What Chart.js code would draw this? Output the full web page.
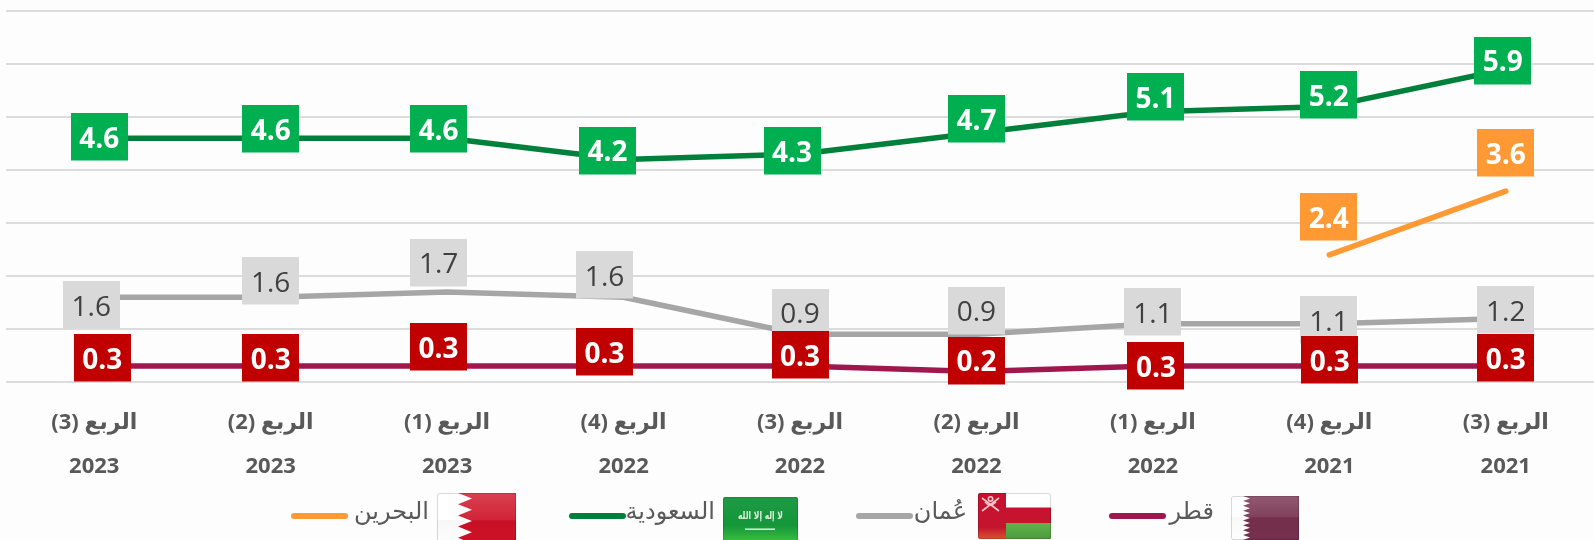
<!DOCTYPE html>
<html lang="ar">
<head>
<meta charset="utf-8">
<script src="https://cdn.jsdelivr.net/npm/chart.js@4"></script>
<style>
  html, body { margin: 0; padding: 0; background: #fdfdfd; }
  #wrap { position: relative; width: 1594px; height: 540px; overflow: hidden; }
  canvas { display: block; }
  .swatch { position: absolute; height: 6px; border-radius: 3px; top: 513px; }
  .name { position: absolute; top: 497px; direction: rtl; font: 24px "DejaVu Sans", "Noto Sans", sans-serif; color: #595959; white-space: nowrap; letter-spacing: -1px; }
  .flag { position: absolute; display: block; }
</style>
</head>
<body>
<div id="wrap">
  <canvas id="gccChart" width="1594" height="540" dir="rtl"></canvas>
</div>
<script>
// --- Data (left to right as in the picture) ---
const quarters = ['الربع (3)', 'الربع (2)', 'الربع (1)', 'الربع (4)', 'الربع (3)', 'الربع (2)', 'الربع (1)', 'الربع (4)', 'الربع (3)'];
const years = ['2023', '2023', '2023', '2022', '2022', '2022', '2022', '2021', '2021'];
const seriesNames = ['قطر', 'عُمان', 'السعودية', 'البحرين'];
const qatarValues = [0.3, 0.3, 0.3, 0.3, 0.3, 0.2, 0.3, 0.3, 0.3];
const omanValues = [1.6, 1.6, 1.7, 1.6, 0.9, 0.9, 1.1, 1.1, 1.2];
const saudiValues = [4.6, 4.6, 4.6, 4.2, 4.3, 4.7, 5.1, 5.2, 5.9];
const bahrainValues = [null, null, null, null, null, null, null, 2.4, 3.6];

// --- Hand-placed label boxes: shift in px from the point they belong to ---
const qatarShift = [[8, -8], [0, -8], [-8.5, -19], [-19, -14], [0, -11], [0, -11], [3, 0], [0.5, -6], [0, -8]];
const omanShift = [[-3, 8], [0, -16], [-8.5, -29.5], [-19, -22], [0, -22], [0, -24], [0, -12], [-0.5, -4], [0, -8.5]];
const saudiShift = [[5, -1], [0, -9], [-8.5, -9], [-16, -9], [-8, -3.5], [0, -14], [2.5, -15], [-0.5, -11.5], [-3, -9]];
const bahrainShift = [null, null, null, null, null, null, null, [-0.5, -38], [0, -38]];

// Series colours: line, box, label text
const qatarColors = ['#a0174e', '#c00000', '#ffffff'];
const omanColors = ['#a6a6a6', '#d9d9d9', '#404040'];
const saudiColors = ['#00803a', '#00b050', '#ffffff'];
const bahrainColors = ['#ff9933', '#ff9933', '#ffffff'];

const BOX_W = 57, BOX_H = 47.5;

// Draws the value boxes on top of the lines
const valueBoxes = {
  id: 'valueBoxes',
  afterDatasetsDraw(chart) {
    const { ctx, scales } = chart;
    // orange first, red last: red boxes sit on top of the grey ones
    [3, 2, 1, 0].forEach(ds => {
      const set = chart.data.datasets[ds];
      set.data.forEach((v, i) => {
        if (v === null) return;
        const x = scales.x.getPixelForValue(i) + set.boxShift[i][0];
        const y = scales.y.getPixelForValue(v) + set.boxShift[i][1];
        ctx.save();
        ctx.fillStyle = set.boxColor;
        ctx.fillRect(Math.round(x - BOX_W / 2), Math.round(y - BOX_H / 2), BOX_W, BOX_H);
        ctx.fillStyle = set.labelColor;
        ctx.font = (set.labelWeight || 'bold') + ' 28px "Open Sans", sans-serif';
        ctx.textAlign = 'center';
        ctx.textBaseline = 'alphabetic';
        ctx.direction = 'ltr';
        ctx.fillText(v.toFixed(1), x, y + 11);
        ctx.restore();
      });
    });
  }
};

const makeSet = (i, values, colors, shift, weight) => ({
  label: seriesNames[i],
  data: values,
  borderColor: colors[0],
  boxColor: colors[1],
  labelColor: colors[2],
  boxShift: shift,
  labelWeight: weight,
  borderWidth: 5.5,
  borderCapStyle: 'round',
  borderJoinStyle: 'round',
  pointRadius: 0,
  tension: 0,
  order: i === 3 ? 3 : i
});

new Chart(document.getElementById('gccChart'), {
  type: 'line',
  data: {
    labels: quarters.map((q, i) => [q, years[i]]),
    datasets: [
      makeSet(0, qatarValues, qatarColors, qatarShift),
      makeSet(1, omanValues, omanColors, omanShift, 'normal'),
      makeSet(2, saudiValues, saudiColors, saudiShift),
      makeSet(3, bahrainValues, bahrainColors, bahrainShift)
    ]
  },
  options: {
    responsive: false,
    devicePixelRatio: 1,
    animation: false,
    layout: { padding: { left: 6, top: 11, right: 0, bottom: 0 } },
    plugins: { legend: { display: false }, tooltip: { enabled: false } },
    scales: {
      x: {
        offset: true,
        grid: { display: false },
        border: { display: false },
        afterFit: s => { s.height = 158; },
        ticks: {
          autoSkip: false,
          maxRotation: 0,
          padding: 11,
          color: '#595959',
          font: { family: '"Open Sans", "DejaVu Sans", sans-serif', size: 22, weight: 'bold', lineHeight: 2 }
        }
      },
      y: {
        min: 0,
        max: 7,
        grid: { color: '#dcdcdc', lineWidth: 2, drawTicks: false },
        border: { display: false },
        afterFit: s => { s.width = 0; },
        ticks: { display: false, stepSize: 1 }
      }
    }
  },
  plugins: [valueBoxes]
});

// --- Legend with flags, under the chart ---
const gloss = id => `<defs><linearGradient id="${id}" x1="0" y1="0" x2="0" y2="1">
  <stop offset="0" stop-color="#fff" stop-opacity=".2"/><stop offset=".48" stop-color="#fff" stop-opacity=".08"/>
  <stop offset=".5" stop-color="#000" stop-opacity=".03"/><stop offset="1" stop-color="#000" stop-opacity="0"/></linearGradient></defs>`;
const glossRect = (id, w, h) => `<rect width="${w}" height="${h}" rx="2" fill="url(#${id})"/><rect x=".5" y=".5" width="${w - 1}" height="${h - 1}" rx="2" fill="none" stroke="#000" stroke-opacity=".15"/>`;

// zig-zag edge between the white hoist and the coloured field
function zigzag(x, depth, teeth, w, h) {
  let pts = `${x},0 `;
  for (let t = 0; t < teeth; t++) {
    pts += `${x + depth},${(t + 0.5) * h / teeth} ${x},${(t + 1) * h / teeth} `;
  }
  return `${w},${h} ${w},0 ` + pts;
}

function bahrainFlag() {
  const w = 79, h = 56;
  return `<svg class="flag" style="left:437px;top:493px" width="${w}" height="${h}">${gloss('gb')}
    <rect width="${w}" height="${h}" rx="2" fill="#fff"/>
    <polygon points="${zigzag(21, 14, 5, w, h)}" fill="#ce1126"/>
    ${glossRect('gb', w, h)}</svg>`;
}
function saudiFlag() {
  const w = 75, h = 47;
  return `<svg class="flag" style="left:723px;top:497px" width="${w}" height="${h}">
    <defs><linearGradient id="gs" x1="0" y1="0" x2="0" y2="1"><stop offset="0" stop-color="#1f9a45"/><stop offset=".6" stop-color="#14963a"/><stop offset="1" stop-color="#3fc63f"/></linearGradient></defs>
    <rect width="${w}" height="${h}" rx="2" fill="url(#gs)"/>
    <text x="37.5" y="22" text-anchor="middle" direction="rtl" font-family="DejaVu Sans" font-size="11" font-weight="bold" fill="#dff0df" textLength="45" lengthAdjust="spacingAndGlyphs">لا إله إلا الله</text>
    <rect x="22" y="31.5" width="30" height="1.4" fill="#e8f5e8"/>
    <rect x=".5" y=".5" width="${w - 1}" height="${h - 1}" rx="2" fill="none" stroke="#000" stroke-opacity=".12"/></svg>`;
}
function omanFlag() {
  const w = 73, h = 46;
  return `<svg class="flag" style="left:978px;top:493px" width="${w}" height="${h}">
    <defs><linearGradient id="go" x1="0" y1="0" x2="0" y2="1"><stop offset="0" stop-color="#5cb44c"/><stop offset="1" stop-color="#4f9a3e"/></linearGradient>
    <linearGradient id="gr" x1="0" y1="0" x2="0" y2="1"><stop offset="0" stop-color="#c8102e"/><stop offset=".75" stop-color="#c4152f"/><stop offset="1" stop-color="#d8532f"/></linearGradient></defs>
    <rect width="${w}" height="${h}" rx="2" fill="url(#gr)"/>
    <rect x="28" y="0" width="45" height="14.5" fill="#fff"/>
    <rect x="28" y="30" width="45" height="16" fill="url(#go)"/>
    <g stroke="#f0c8c8" stroke-width="1.6" fill="none"><path d="M4 5 L21 18 M21 5 L4 18"/><path d="M7 9 Q12 15 18 9"/><circle cx="12.5" cy="6" r="2.2"/></g>
    <rect x=".5" y=".5" width="${w - 1}" height="${h - 1}" rx="2" fill="none" stroke="#000" stroke-opacity=".15"/></svg>`;
}
function qatarFlag() {
  const w = 68, h = 44;
  return `<svg class="flag" style="left:1231px;top:496px" width="${w}" height="${h}">${gloss('gq')}
    <rect width="${w}" height="${h}" rx="2" fill="#fff"/>
    <polygon points="${zigzag(12, 7, 9, w, h)}" fill="#76304e"/>
    ${glossRect('gq', w, h)}</svg>`;
}

const legendFlags = [qatarFlag, omanFlag, saudiFlag, bahrainFlag];
const legendColors = [qatarColors[0], omanColors[0], saudiColors[0], bahrainColors[0]];
const legendSwatchX = [1109, 856, 569, 291];
const legendTextRight = [1214, 967, 715, 429];

const wrap = document.getElementById('wrap');
seriesNames.forEach((name, i) => {
  wrap.insertAdjacentHTML('beforeend', legendFlags[i]());
  wrap.insertAdjacentHTML('beforeend',
    `<div class="swatch" style="left:${legendSwatchX[i]}px;width:57px;background:${legendColors[i]}"></div>
     <div class="name" style="right:${1594 - legendTextRight[i]}px">${name}</div>`);
});
</script>
</body>
</html>
